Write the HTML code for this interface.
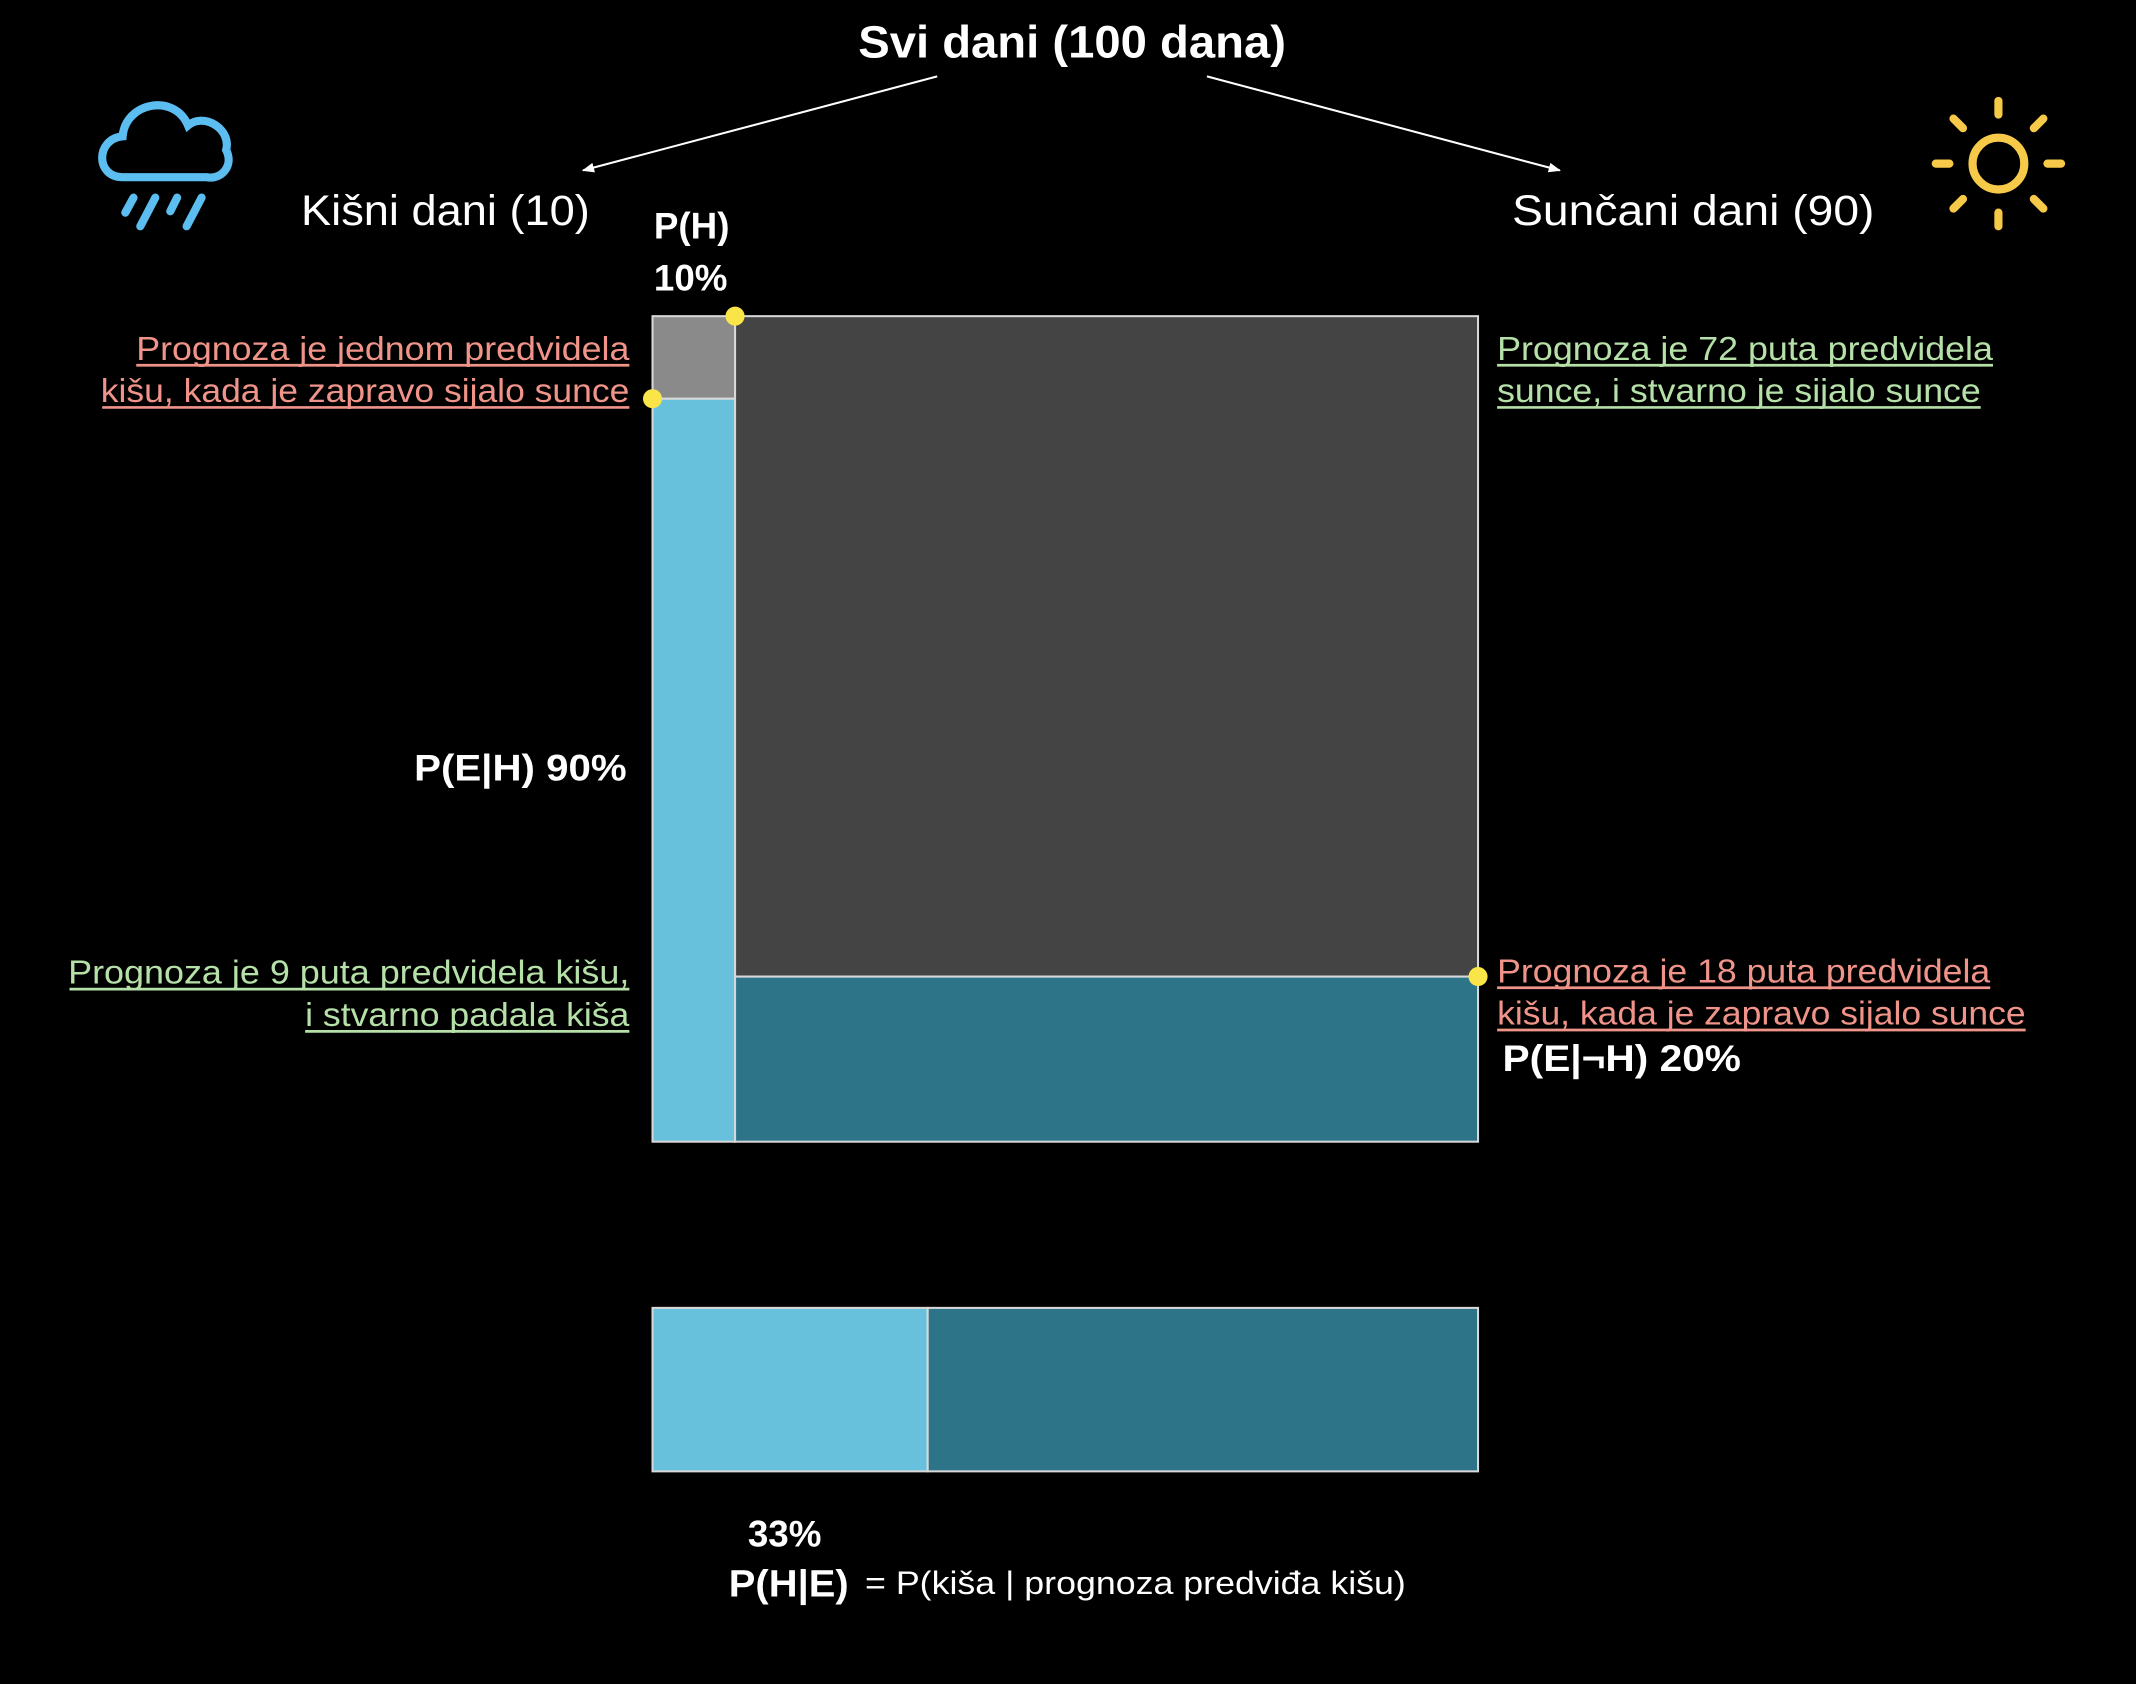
<!DOCTYPE html>
<html><head><meta charset="utf-8"><style>
html,body{margin:0;padding:0;background:#000;}
svg{display:block;font-family:"Liberation Sans",sans-serif;}
</style></head><body>
<svg id="chart" width="2136" height="1684" viewBox="0 0 1568 1236" xmlns="http://www.w3.org/2000/svg">
<rect width="1568" height="1236" fill="#000"/>
<defs><marker id="ah" viewBox="0 0 10 10" refX="9" refY="5" markerWidth="6" markerHeight="6" orient="auto"><path d="M0,1 L10,5 L0,9 z" fill="#fff"/></marker></defs>
<text x="787" y="42" fill="#fff" font-size="33" font-weight="bold" text-anchor="middle" textLength="314" lengthAdjust="spacingAndGlyphs">Svi dani (100 dana)</text>
<line x1="688" y1="56" x2="428" y2="125" stroke="#fff" stroke-width="1.5" marker-end="url(#ah)"/>
<line x1="886" y1="56" x2="1145" y2="125" stroke="#fff" stroke-width="1.5" marker-end="url(#ah)"/>
<g fill="none" stroke="#5bbdf0" stroke-width="6" stroke-linecap="round">
<path d="M90,130 C70,130 70,102 90,100 C92,75 128,68 138,92 C150,82 170,95 166,110 C172,122 162,132 152,130 Z"/>
<line x1="98" y1="145" x2="92" y2="156"/><line x1="114" y1="145" x2="103" y2="166"/><line x1="130" y1="145" x2="125" y2="155"/><line x1="148" y1="145" x2="137" y2="166"/>
</g>
<g stroke="#f7c949" stroke-width="6" stroke-linecap="round" fill="none">
<circle cx="1467" cy="120" r="19"/>
<line x1="1467" y1="74" x2="1467" y2="84"/><line x1="1467" y1="156" x2="1467" y2="166"/>
<line x1="1421" y1="120" x2="1431" y2="120"/><line x1="1503" y1="120" x2="1513" y2="120"/>
<line x1="1434" y1="87" x2="1441" y2="94"/><line x1="1493" y1="146" x2="1500" y2="153"/>
<line x1="1434" y1="153" x2="1441" y2="146"/><line x1="1493" y1="94" x2="1500" y2="87"/>
</g>
<text x="221" y="165" fill="#fff" font-size="31" textLength="212" lengthAdjust="spacingAndGlyphs">Kišni dani (10)</text>
<text x="1110" y="165" fill="#fff" font-size="31" textLength="266" lengthAdjust="spacingAndGlyphs">Sunčani dani (90)</text>
<text x="480" y="175" fill="#fff" font-size="27" font-weight="bold">P(H)</text>
<text x="480" y="213" fill="#fff" font-size="27" font-weight="bold">10%</text>
<g id="marks"></g>
<g font-size="24.5">
<text x="462" y="264" fill="#f0948a" text-anchor="end" textLength="362" lengthAdjust="spacingAndGlyphs">Prognoza je jednom predvidela</text>
<text x="462" y="295" fill="#f0948a" text-anchor="end" textLength="388" lengthAdjust="spacingAndGlyphs">kišu, kada je zapravo sijalo sunce</text>
<text x="1099" y="264" fill="#b5e0a8" textLength="364" lengthAdjust="spacingAndGlyphs">Prognoza je 72 puta predvidela</text>
<text x="1099" y="295" fill="#b5e0a8" textLength="355" lengthAdjust="spacingAndGlyphs">sunce, i stvarno je sijalo sunce</text>
<text x="462" y="722" fill="#b5e0a8" text-anchor="end" textLength="412" lengthAdjust="spacingAndGlyphs">Prognoza je 9 puta predvidela kišu,</text>
<text x="462" y="753" fill="#b5e0a8" text-anchor="end" textLength="238" lengthAdjust="spacingAndGlyphs">i stvarno padala kiša</text>
<text x="1099" y="721" fill="#f0948a" textLength="362" lengthAdjust="spacingAndGlyphs">Prognoza je 18 puta predvidela</text>
<text x="1099" y="752" fill="#f0948a" textLength="388" lengthAdjust="spacingAndGlyphs">kišu, kada je zapravo sijalo sunce</text>
</g>
<g stroke-width="2">
<line x1="100" y1="268" x2="462" y2="268" stroke="#f0948a"/>
<line x1="75" y1="299" x2="462" y2="299" stroke="#f0948a"/>
<line x1="1099" y1="268" x2="1463" y2="268" stroke="#b5e0a8"/>
<line x1="1099" y1="299" x2="1454" y2="299" stroke="#b5e0a8"/>
<line x1="51" y1="726" x2="462" y2="726" stroke="#b5e0a8"/>
<line x1="224" y1="757" x2="462" y2="757" stroke="#b5e0a8"/>
<line x1="1099" y1="725" x2="1461" y2="725" stroke="#f0948a"/>
<line x1="1099" y1="756" x2="1487" y2="756" stroke="#f0948a"/>
</g>
<text x="460" y="573" fill="#fff" font-size="27" font-weight="bold" text-anchor="end" textLength="156" lengthAdjust="spacingAndGlyphs">P(E|H) 90%</text>
<text x="1103" y="786" fill="#fff" font-size="27" font-weight="bold" textLength="175" lengthAdjust="spacingAndGlyphs">P(E|¬H) 20%</text>
<text x="549" y="1135" fill="#fff" font-size="27" font-weight="bold">33%</text>
<text x="535" y="1172" fill="#fff" font-size="28" font-weight="bold" textLength="88" lengthAdjust="spacingAndGlyphs">P(H|E)</text>
<text x="635" y="1170" fill="#fff" font-size="24" textLength="397" lengthAdjust="spacingAndGlyphs">= P(kiša | prognoza predviđa kišu)</text>
</svg>
<script>
const priorRain = [0.10];
const likelihoods = [0.90, 0.20]; // P(E|H), P(E|notH)
const ns = 'http://www.w3.org/2000/svg';
const g = document.getElementById('marks');
const X0 = 479, Y0 = 232, S = 606, BY = 960, BH = 120;
const sx = v => X0 + v * S;
const sy = v => Y0 + v * S;
function rect(x, y, w, h, fill, name) {
  const r = document.createElementNS(ns, 'rect');
  r.setAttribute('x', x); r.setAttribute('y', y); r.setAttribute('width', w); r.setAttribute('height', h);
  r.setAttribute('fill', fill); r.setAttribute('stroke', '#d8d8d8'); r.setAttribute('stroke-width', '1.5');
  
  
  g.appendChild(r);
}
function dot(x, y, name) {
  const c = document.createElementNS(ns, 'circle');
  c.setAttribute('cx', x); c.setAttribute('cy', y); c.setAttribute('r', 7); c.setAttribute('fill', '#f9e547');
  
  
  g.appendChild(c);
}
const pH = priorRain[0], pEH = likelihoods[0], pEnH = likelihoods[1];
const xs = sx(pH), xe = sx(1);
const ySplitL = sy(1 - pEH), ySplitR = sy(1 - pEnH), yEnd = sy(1);
rect(X0, Y0, xs - X0, ySplitL - Y0, '#8a8a8a', 'rain-no-forecast');
rect(X0, ySplitL, xs - X0, yEnd - ySplitL, '#67c1dc', 'rain-forecast');
rect(xs, Y0, xe - xs, ySplitR - Y0, '#444444', 'sun-no-forecast');
rect(xs, ySplitR, xe - xs, yEnd - ySplitR, '#2d7489', 'sun-forecast');
const post = pH * pEH / (pH * pEH + (1 - pH) * pEnH);
const xp = sx(post);
rect(X0, BY, xp - X0, BH, '#67c1dc', 'posterior-rain-bar');
rect(xp, BY, xe - xp, BH, '#2d7489', 'posterior-sun-bar');
dot(xs, Y0, 'p-h-marker');
dot(X0, ySplitL, 'p-e-h-marker');
dot(xe, ySplitR, 'p-e-not-h-marker');
</script>
</body></html>
